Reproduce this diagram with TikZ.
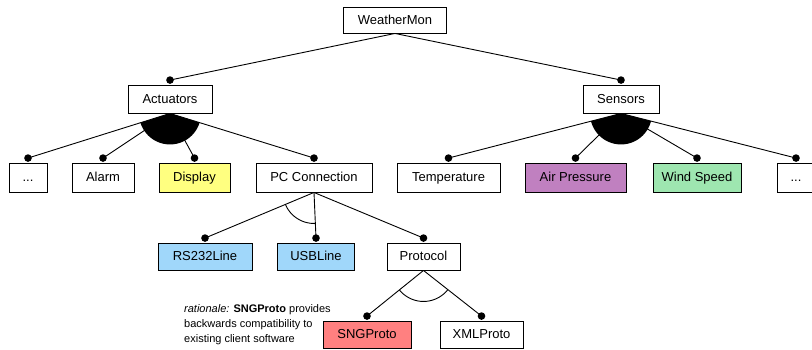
\documentclass[tikz,border=0pt]{standalone}
\usepackage{fontspec}
\setmainfont{Liberation Sans}
\usetikzlibrary{calc}
\definecolor{dispY}{RGB}{255,255,128}
\definecolor{airP}{RGB}{192,128,192}
\definecolor{windG}{RGB}{158,230,176}
\definecolor{lineB}{RGB}{160,215,250}
\definecolor{sngR}{RGB}{255,128,128}
\begin{document}
\begin{tikzpicture}[x=1pt,y=-1pt,
  box/.style={draw, line width=0.9pt, inner sep=0pt, minimum height=28pt, text height=11pt, text depth=2.4pt, font=\fontsize{13}{15}\selectfont},
  conn/.style={line width=0.9pt},
  knob/.style={fill=black},
  grpfill/.style={fill=black},
  grparc/.style={draw, line width=0.9pt}]
\useasboundingbox (0,0) rectangle (812,349);
% boxes
\node[box, minimum width=103pt, minimum height=26pt] (wm) at (395,20) {WeatherMon};
\node[box, minimum width=84pt] (act) at (170,99) {Actuators};
\node[box, minimum width=76pt] (sen) at (621,99) {Sensors};
\node[box, minimum width=38pt, minimum height=29pt] (dl) at (28,177.5) {...};
\node[box, minimum width=62pt, minimum height=29pt] (alarm) at (103,177.5) {Alarm};
\node[box, minimum width=71pt, minimum height=29pt, fill=dispY] (disp) at (194.5,177.5) {Display};
\node[box, minimum width=116pt, minimum height=29pt] (pc) at (314,177.5) {PC Connection};
\node[box, minimum width=103pt, minimum height=29pt] (temp) at (448.5,177.5) {Temperature};
\node[box, minimum width=101pt, minimum height=29pt, fill=airP] (air) at (575.5,177.5) {Air Pressure};
\node[box, minimum width=88pt, minimum height=29pt, fill=windG] (wind) at (697,177.5) {Wind Speed};
\node[box, minimum width=38pt, minimum height=29pt] (dr) at (796,177.5) {...};
\node[box, minimum width=94pt, minimum height=27pt, fill=lineB] (rs) at (205,256.5) {RS232Line};
\node[box, minimum width=77pt, minimum height=27pt, fill=lineB] (usb) at (316,256.5) {USBLine};
\node[box, minimum width=73pt, minimum height=27pt] (proto) at (423.5,256.5) {Protocol};
\node[box, minimum width=88pt, minimum height=27pt, fill=sngR] (sng) at (367,334.5) {SNGProto};
\node[box, minimum width=83pt, minimum height=27pt] (xml) at (481.5,334.5) {XMLProto};
\node[anchor=west, align=left, inner sep=0pt, font=\fontsize{11}{15}\selectfont] (rat) at (184,325)
  {\textit{rationale:} \textbf{SNGProto} provides\\backwards compatibility to\\existing client software};
% knob positions
\foreach \n in {act,sen,dl,alarm,disp,pc,temp,air,wind,dr,rs,usb,proto,sng,xml}
  \coordinate (k\n) at ($(\n.north)+(0,-4.5)$);
% group sectors
\begin{scope}
  \clip (act.south) -- ($(act.south)!4!(kdl)$) -- ($(act.south)!4!(kpc)$) -- cycle;
  \path[grpfill] (act.south) circle[radius=31pt];
\end{scope}
\begin{scope}
  \clip (sen.south) -- ($(sen.south)!4!(ktemp)$) -- ($(sen.south)!4!(kdr)$) -- cycle;
  \path[grpfill] (sen.south) circle[radius=31pt];
\end{scope}
\begin{scope}
  \clip (pc.south) -- ($(pc.south)!4!(krs)$) -- ($(pc.south)!4!(kusb)$) -- cycle;
  \path[grparc] (pc.south) circle[radius=31pt];
\end{scope}
\begin{scope}
  \clip (proto.south) -- ($(proto.south)!4!(ksng)$) -- ($(proto.south)!4!(kxml)$) -- cycle;
  \path[grparc] (proto.south) circle[radius=31pt];
\end{scope}
% connectors
\draw[conn] (wm.south) -- (kact);
\draw[conn] (wm.south) -- (ksen);
\foreach \c in {dl,alarm,disp,pc} \draw[conn] (act.south) -- (k\c);
\foreach \c in {temp,air,wind,dr} \draw[conn] (sen.south) -- (k\c);
\foreach \c in {rs,usb,proto} \draw[conn] (pc.south) -- (k\c);
\foreach \c in {sng,xml} \draw[conn] (proto.south) -- (k\c);
% knobs
\foreach \n in {act,sen,dl,alarm,disp,pc,temp,air,wind,dr,rs,usb,proto,sng,xml}
  \path[knob] (k\n) circle[radius=3.8pt];
\end{tikzpicture}
\end{document}
